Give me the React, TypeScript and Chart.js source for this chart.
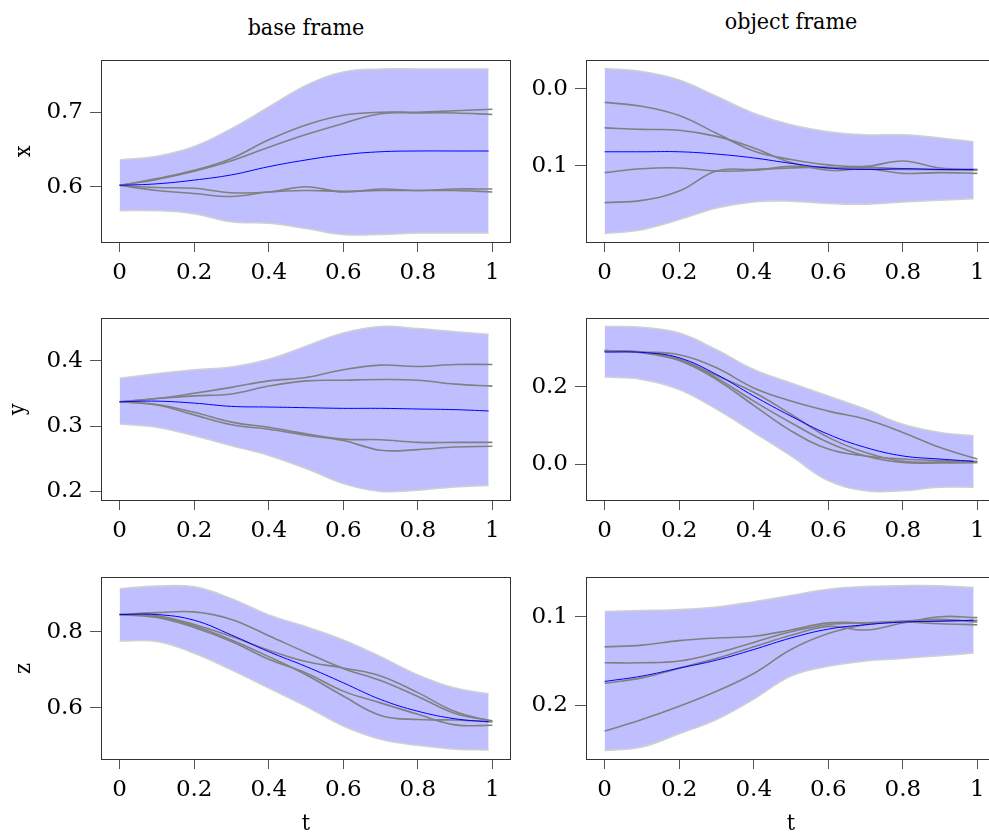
import React, { useEffect, useRef } from "react";
import { Chart, registerables } from "chart.js";

Chart.register(...registerables);

// ---------- data ----------
const T = [0, 0.1, 0.2, 0.3, 0.4, 0.5, 0.6, 0.7, 0.8, 0.9, 1.0];
const TB = [0, 0.1, 0.2, 0.3, 0.4, 0.5, 0.6, 0.7, 0.8, 0.9, 0.99];

const X_TICKS = [0, 0.2, 0.4, 0.6, 0.8, 1];
const X_TICK_LABELS = ["0", "0.2", "0.4", "0.6", "0.8", "1"];

const COL_TITLES = ["base frame", "object frame"];
const ROW_LABELS = ["x", "y", "z"];
const X_LABEL = "t";

// base frame, x
const BX_UP = [0.636, 0.641, 0.654, 0.678, 0.707, 0.736, 0.754, 0.758, 0.758, 0.758, 0.758];
const BX_LO = [0.568, 0.568, 0.564, 0.553, 0.551, 0.544, 0.536, 0.536, 0.538, 0.538, 0.538];
const BX_MEAN = [0.602, 0.604, 0.609, 0.616, 0.627, 0.636, 0.643, 0.647, 0.648, 0.648, 0.648];
const BX_D1 = [0.602, 0.611, 0.622, 0.638, 0.663, 0.683, 0.696, 0.700, 0.700, 0.702, 0.704];
const BX_D2 = [0.602, 0.610, 0.621, 0.635, 0.653, 0.670, 0.685, 0.698, 0.699, 0.699, 0.697];
const BX_D3 = [0.602, 0.595, 0.591, 0.587, 0.593, 0.595, 0.594, 0.595, 0.595, 0.595, 0.593];
const BX_D4 = [0.602, 0.599, 0.598, 0.592, 0.593, 0.600, 0.593, 0.597, 0.595, 0.597, 0.597];
const BX_TICKS = [0.6, 0.7];

// object frame, x
const OX_UP = [0.026, 0.022, 0.011, -0.010, -0.032, -0.047, -0.056, -0.060, -0.060, -0.064, -0.069];
const OX_LO = [-0.188, -0.183, -0.170, -0.155, -0.147, -0.146, -0.149, -0.150, -0.147, -0.145, -0.143];
const OX_MEAN = [-0.082, -0.082, -0.082, -0.085, -0.090, -0.097, -0.103, -0.105, -0.104, -0.105, -0.105];
const OX_D1 = [-0.018, -0.023, -0.035, -0.058, -0.081, -0.092, -0.099, -0.101, -0.094, -0.103, -0.105];
const OX_D2 = [-0.051, -0.053, -0.054, -0.062, -0.077, -0.096, -0.106, -0.104, -0.110, -0.109, -0.110];
const OX_D3 = [-0.109, -0.104, -0.103, -0.107, -0.106, -0.101, -0.103, -0.102, -0.104, -0.105, -0.105];
const OX_D4 = [-0.148, -0.145, -0.133, -0.107, -0.105, -0.103, -0.102, -0.104, -0.105, -0.105, -0.106];
const OX_TICKS = [0.0, -0.1];

// base frame, y
const BY_UP = [0.373, 0.380, 0.386, 0.390, 0.402, 0.422, 0.442, 0.452, 0.449, 0.444, 0.440];
const BY_LO = [0.303, 0.298, 0.285, 0.270, 0.255, 0.235, 0.212, 0.200, 0.202, 0.207, 0.209];
const BY_MEAN = [0.337, 0.338, 0.335, 0.330, 0.329, 0.328, 0.327, 0.327, 0.326, 0.325, 0.323];
const BY_D1 = [0.337, 0.342, 0.350, 0.359, 0.369, 0.374, 0.386, 0.393, 0.391, 0.394, 0.394];
const BY_D2 = [0.337, 0.342, 0.346, 0.349, 0.361, 0.369, 0.370, 0.371, 0.370, 0.364, 0.361];
const BY_D3 = [0.337, 0.333, 0.321, 0.306, 0.298, 0.288, 0.280, 0.279, 0.275, 0.275, 0.275];
const BY_D4 = [0.337, 0.332, 0.317, 0.302, 0.295, 0.286, 0.278, 0.263, 0.264, 0.268, 0.269];
const BY_TICKS = [0.2, 0.3, 0.4];

// object frame, y
const OY_UP = [0.356, 0.354, 0.339, 0.296, 0.245, 0.210, 0.176, 0.142, 0.103, 0.082, 0.073];
const OY_LO = [0.225, 0.219, 0.193, 0.142, 0.082, 0.021, -0.043, -0.069, -0.069, -0.060, -0.060];
const OY_MEAN = [0.290, 0.289, 0.275, 0.232, 0.176, 0.124, 0.077, 0.043, 0.021, 0.013, 0.007];
const OY_D1 = [0.294, 0.290, 0.283, 0.249, 0.197, 0.163, 0.137, 0.116, 0.082, 0.043, 0.013];
const OY_D2 = [0.294, 0.290, 0.272, 0.229, 0.186, 0.129, 0.069, 0.030, 0.007, 0.005, 0.004];
const OY_D3 = [0.292, 0.289, 0.270, 0.223, 0.163, 0.107, 0.056, 0.021, 0.004, 0.003, 0.004];
const OY_D4 = [0.292, 0.288, 0.268, 0.219, 0.152, 0.086, 0.039, 0.021, 0.013, 0.009, 0.007];
const OY_TICKS = [0.0, 0.2];

// base frame, z
const BZ_UP = [0.914, 0.921, 0.919, 0.888, 0.845, 0.814, 0.779, 0.735, 0.687, 0.652, 0.637];
const BZ_LO = [0.776, 0.775, 0.744, 0.700, 0.652, 0.604, 0.552, 0.517, 0.501, 0.491, 0.489];
const BZ_MEAN = [0.846, 0.846, 0.831, 0.792, 0.748, 0.709, 0.666, 0.622, 0.591, 0.571, 0.563];
const BZ_D1 = [0.846, 0.851, 0.853, 0.833, 0.790, 0.746, 0.704, 0.672, 0.630, 0.585, 0.566];
const BZ_D2 = [0.846, 0.843, 0.820, 0.788, 0.752, 0.722, 0.705, 0.684, 0.640, 0.590, 0.564];
const BZ_D3 = [0.846, 0.840, 0.816, 0.779, 0.735, 0.687, 0.631, 0.580, 0.569, 0.568, 0.563];
const BZ_D4 = [0.846, 0.838, 0.812, 0.775, 0.728, 0.692, 0.644, 0.613, 0.583, 0.555, 0.554];
const BZ_TICKS = [0.6, 0.8];

// object frame, z
const OZ_UP = [-0.094, -0.093, -0.092, -0.089, -0.083, -0.076, -0.069, -0.066, -0.065, -0.065, -0.067];
const OZ_LO = [-0.251, -0.247, -0.232, -0.216, -0.193, -0.167, -0.156, -0.150, -0.147, -0.144, -0.141];
const OZ_MEAN = [-0.173, -0.167, -0.158, -0.149, -0.137, -0.124, -0.114, -0.109, -0.106, -0.105, -0.104];
const OZ_D1 = [-0.134, -0.132, -0.127, -0.124, -0.122, -0.115, -0.107, -0.107, -0.106, -0.108, -0.109];
const OZ_D2 = [-0.152, -0.152, -0.150, -0.141, -0.129, -0.117, -0.109, -0.107, -0.105, -0.103, -0.106];
const OZ_D3 = [-0.175, -0.169, -0.158, -0.147, -0.134, -0.121, -0.111, -0.115, -0.107, -0.100, -0.101];
const OZ_D4 = [-0.229, -0.216, -0.201, -0.184, -0.164, -0.137, -0.119, -0.109, -0.106, -0.105, -0.104];
const OZ_TICKS = [-0.1, -0.2];

// ---------- panel definitions ----------
type PanelDef = {
  row: number;
  col: number;
  up: number[];
  lo: number[];
  mean: number[];
  demos: number[][];
  ymin: number;
  ymax: number;
  yticks: number[];
};

const PANELS: PanelDef[] = [
  { row: 0, col: 0, up: BX_UP, lo: BX_LO, mean: BX_MEAN, demos: [BX_D1, BX_D2, BX_D3, BX_D4], ymin: 0.526, ymax: 0.77, yticks: BX_TICKS },
  { row: 0, col: 1, up: OX_UP, lo: OX_LO, mean: OX_MEAN, demos: [OX_D1, OX_D2, OX_D3, OX_D4], ymin: -0.199, ymax: 0.037, yticks: OX_TICKS },
  { row: 1, col: 0, up: BY_UP, lo: BY_LO, mean: BY_MEAN, demos: [BY_D1, BY_D2, BY_D3, BY_D4], ymin: 0.187, ymax: 0.465, yticks: BY_TICKS },
  { row: 1, col: 1, up: OY_UP, lo: OY_LO, mean: OY_MEAN, demos: [OY_D1, OY_D2, OY_D3, OY_D4], ymin: -0.093, ymax: 0.378, yticks: OY_TICKS },
  { row: 2, col: 0, up: BZ_UP, lo: BZ_LO, mean: BZ_MEAN, demos: [BZ_D1, BZ_D2, BZ_D3, BZ_D4], ymin: 0.465, ymax: 0.945, yticks: BZ_TICKS },
  { row: 2, col: 1, up: OZ_UP, lo: OZ_LO, mean: OZ_MEAN, demos: [OZ_D1, OZ_D2, OZ_D3, OZ_D4], ymin: -0.2605, ymax: -0.0552, yticks: OZ_TICKS },
];

// ---------- layout ----------
const FONT = "'DejaVu Serif', 'Liberation Serif', serif";
const LABEL_FONT = "'DejaVu Serif Condensed', 'DejaVu Serif', serif";
const BOX_LEFT = [101, 586];
const BOX_TOP = [60, 318, 577];
const BOX_W = 410;
const BOX_H = 182;
const Y_AXIS_W = 100;
const X_AXIS_H = 60;
const PAD_T = 10;
const PAD_R = 10;
const CANVAS_W = Y_AXIS_W + BOX_W + PAD_R;
const CANVAS_H = PAD_T + BOX_H + X_AXIS_H;

const BAND_FILL = "rgb(191,191,255)";
const BAND_EDGE = "rgb(208,208,208)";
const DEMO_COLOR = "rgb(128,128,128)";
const MEAN_COLOR = "rgb(0,0,255)";
const TEXT_COLOR = "#000000";

const boxPlugin = {
  id: "frameBox",
  afterDatasetsDraw(chart: any) {
    const { ctx, chartArea } = chart;
    const { left, top, right, bottom } = chartArea;
    ctx.save();
    ctx.strokeStyle = "#333333";
    ctx.lineWidth = 1;
    ctx.strokeRect(left + 0.5, top + 0.5, right - left - 1, bottom - top);
    ctx.restore();
  },
};

const pts = (xs: number[], ys: number[]) => ys.map((y, i) => ({ x: xs[i], y }));

function Panel({ def }: { def: PanelDef }) {
  const ref = useRef<HTMLCanvasElement | null>(null);
  useEffect(() => {
    if (!ref.current) return;
    const lineBase = { pointRadius: 0, tension: 0.4, fill: false };
    const chart = new Chart(ref.current, {
      type: "line",
      data: {
        datasets: [
          { ...lineBase, order: 20, data: pts(TB, def.up), borderColor: BAND_EDGE, borderWidth: 1.5, backgroundColor: BAND_FILL, fill: "+1" },
          { ...lineBase, order: 19, data: pts(TB, def.lo), borderColor: BAND_EDGE, borderWidth: 1.5 },
          ...def.demos.map((d, k) => ({ ...lineBase, order: 10 - k, data: pts(T, d), borderColor: DEMO_COLOR, borderWidth: 1.6 })),
          { ...lineBase, order: 0, data: pts(TB, def.mean), borderColor: MEAN_COLOR, borderWidth: 1 },
        ] as any,
      },
      options: {
        animation: false,
        responsive: false,
        devicePixelRatio: 1,
        events: [],
        layout: { padding: { left: 0, top: PAD_T, right: PAD_R, bottom: 0 } },
        plugins: { legend: { display: false }, tooltip: { enabled: false }, title: { display: false } },
        scales: {
          x: {
            type: "linear",
            min: -0.05,
            max: 1.05,
            afterBuildTicks: (s: any) => {
              s.ticks = X_TICKS.map((v) => ({ value: v }));
            },
            afterFit: (s: any) => {
              s.height = X_AXIS_H;
              s.paddingLeft = 0;
              s.paddingRight = 0;
              s.paddingTop = 0;
              s.paddingBottom = 0;
            },
            border: { display: false },
            grid: { display: true, drawOnChartArea: false, drawTicks: true, tickLength: 10, color: "#555555", lineWidth: 1 },
            ticks: {
              autoSkip: false,
              maxRotation: 0,
              minRotation: 0,
              padding: 7,
              color: TEXT_COLOR,
              font: { family: FONT, size: 23 },
              callback: (_v: any, i: number) => X_TICK_LABELS[i],
            },
          },
          y: {
            type: "linear",
            min: def.ymin,
            max: def.ymax,
            afterBuildTicks: (s: any) => {
              s.ticks = def.yticks.map((v) => ({ value: v }));
            },
            afterFit: (s: any) => {
              s.width = Y_AXIS_W;
              s.paddingLeft = 0;
              s.paddingRight = 0;
              s.paddingTop = 0;
              s.paddingBottom = 0;
            },
            border: { display: false },
            grid: { display: true, drawOnChartArea: false, drawTicks: true, tickLength: 11, color: "#555555", lineWidth: 1 },
            ticks: {
              autoSkip: false,
              padding: 7,
              color: TEXT_COLOR,
              font: { family: FONT, size: 23 },
              callback: (v: any) => Math.abs(Number(v)).toFixed(1),
            },
          },
        },
      } as any,
      plugins: [boxPlugin],
    });
    return () => chart.destroy();
  }, [def]);

  const left = BOX_LEFT[def.col] - Y_AXIS_W;
  const top = BOX_TOP[def.row] - PAD_T;
  return (
    <canvas
      ref={ref}
      width={CANVAS_W}
      height={CANVAS_H}
      style={{ position: "absolute", left, top, width: CANVAS_W, height: CANVAS_H }}
    />
  );
}

const textBase: React.CSSProperties = {
  position: "absolute",
  fontFamily: LABEL_FONT,
  color: TEXT_COLOR,
  whiteSpace: "nowrap",
  textAlign: "center",
};

export default function App() {
  const rowLabelCenters = [22, 16, 22];
  return (
    <div
      style={{
        position: "fixed",
        left: 0,
        top: 0,
        width: 989,
        height: 832,
        overflow: "hidden",
        background: "#ffffff",
      }}
    >
      {PANELS.map((p, i) => (
        <Panel key={i} def={p} />
      ))}
      {/* column titles */}
      <div style={{ ...textBase, fontSize: 23, lineHeight: "23px", left: 206, width: 200, top: 16 }}>{COL_TITLES[0]}</div>
      <div style={{ ...textBase, fontSize: 23, lineHeight: "23px", left: 691, width: 200, top: 10 }}>{COL_TITLES[1]}</div>
      {/* row labels */}
      {ROW_LABELS.map((lab, r) => (
        <div
          key={lab}
          style={{
            ...textBase,
            fontSize: 23,
            lineHeight: "23px",
            width: 40,
            height: 23,
            left: rowLabelCenters[r] - 20,
            top: BOX_TOP[r] + BOX_H / 2 - 11.5,
            transform: "rotate(-90deg)",
          }}
        >
          {lab}
        </div>
      ))}
      {/* x labels */}
      <div style={{ ...textBase, fontSize: 23, lineHeight: "23px", left: 306 - 20, width: 40, top: 811 }}>{X_LABEL}</div>
      <div style={{ ...textBase, fontSize: 23, lineHeight: "23px", left: 791 - 20, width: 40, top: 811 }}>{X_LABEL}</div>
    </div>
  );
}
